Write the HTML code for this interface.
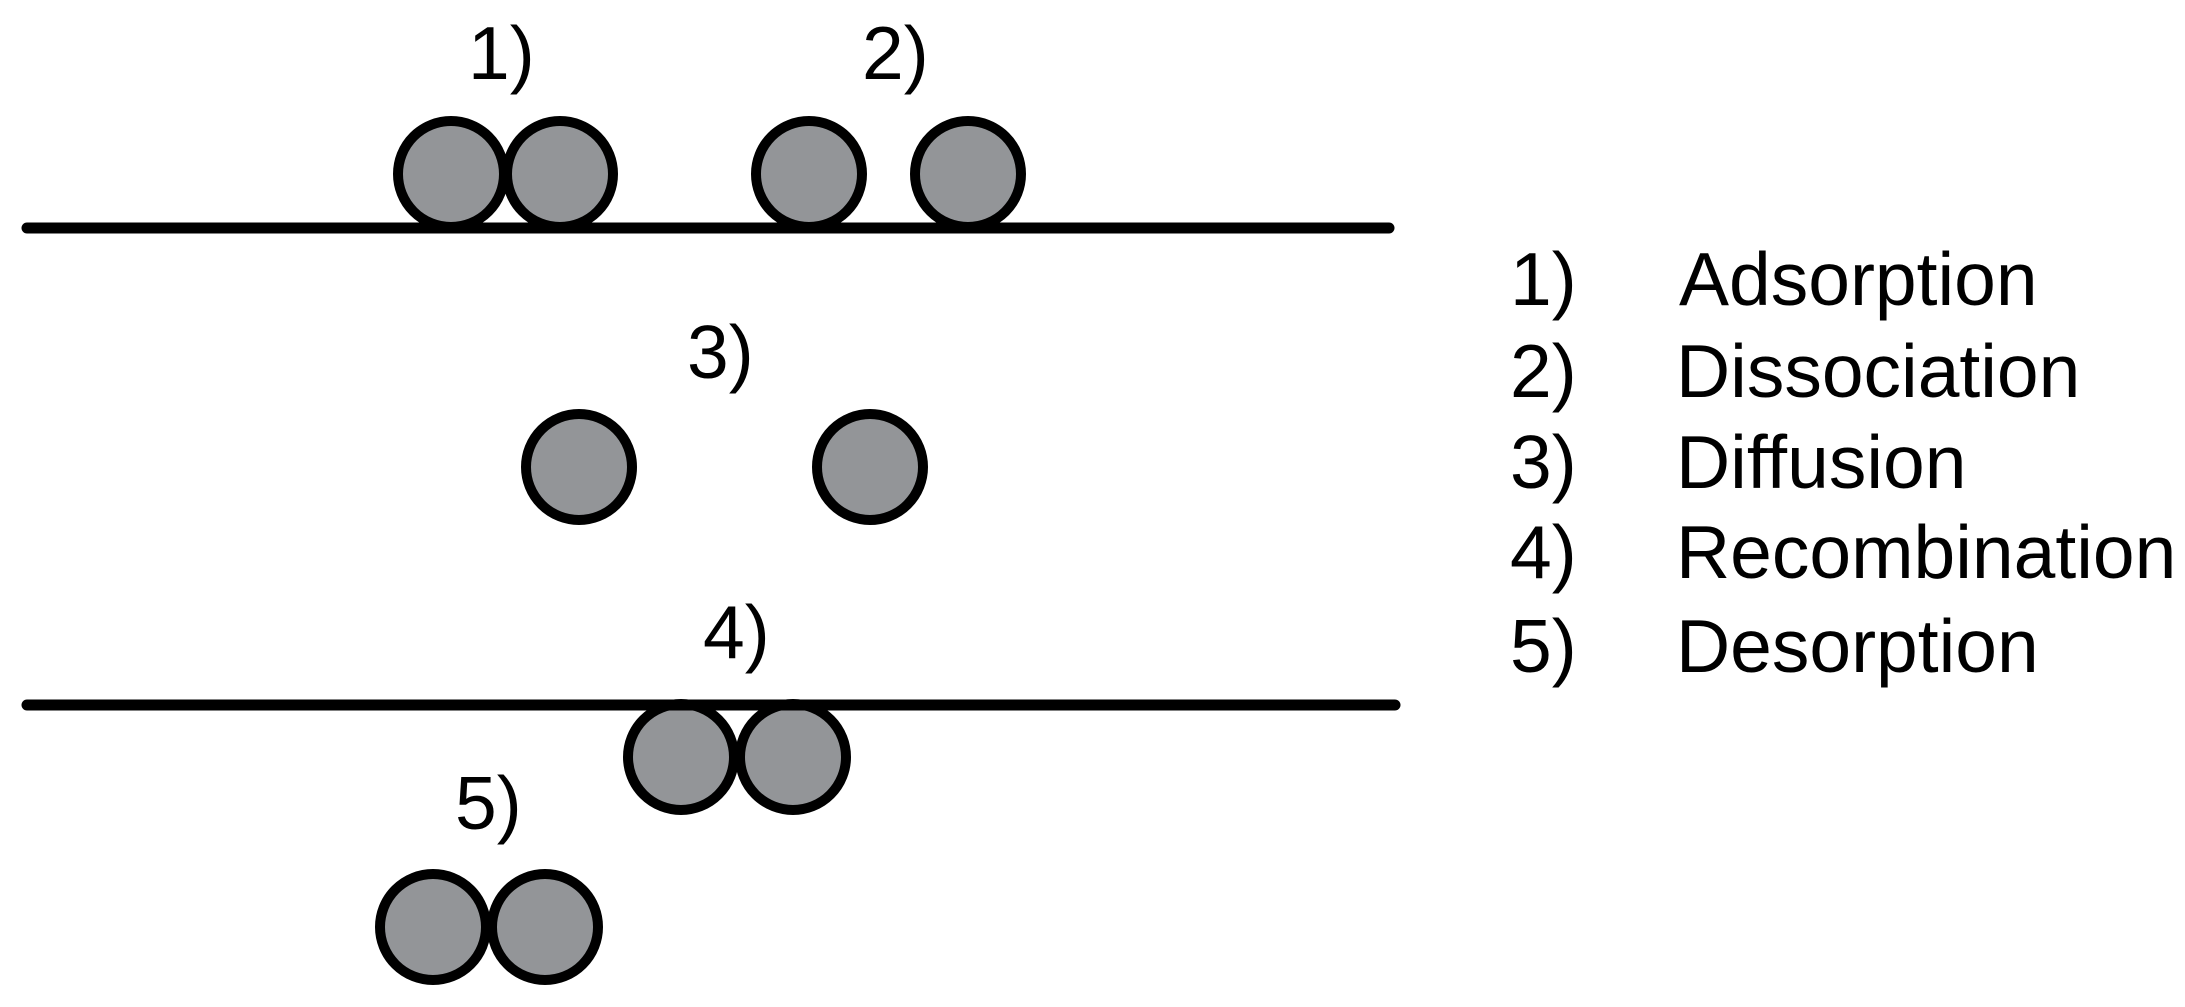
<!DOCTYPE html>
<html><head><meta charset="utf-8"><style>
html,body{margin:0;padding:0;background:#fff;}
svg{display:block;}
text{font-family:"Liberation Sans",Arial,sans-serif;font-size:75px;fill:#000;}
</style></head><body>
<svg width="2185" height="1007" viewBox="0 0 2185 1007" xmlns="http://www.w3.org/2000/svg">
<g fill="#939598" stroke="#000" stroke-width="10">
<circle cx="451" cy="174" r="53"/>
<circle cx="560" cy="174" r="53"/>
<circle cx="809" cy="174" r="53"/>
<circle cx="968" cy="174" r="53"/>
<circle cx="579" cy="467" r="53"/>
<circle cx="870" cy="467" r="53"/>
<circle cx="681" cy="757" r="53"/>
<circle cx="793" cy="757" r="53"/>
<circle cx="433" cy="927" r="53"/>
<circle cx="545" cy="927" r="53"/>
</g>
<line x1="27" y1="228" x2="1389" y2="228" stroke="#000" stroke-width="11" stroke-linecap="round"/>
<line x1="27" y1="705" x2="1395" y2="705" stroke="#000" stroke-width="11" stroke-linecap="round"/>
<text x="468" y="79">1)</text>
<text x="862" y="79">2)</text>
<text x="687" y="378">3)</text>
<text x="703" y="658">4)</text>
<text x="455" y="829">5)</text>
<text x="1510" y="305">1)</text><text x="1679" y="305">Adsorption</text>
<text x="1510" y="397">2)</text><text x="1676" y="397">Dissociation</text>
<text x="1510" y="488">3)</text><text x="1676" y="488">Diffusion</text>
<text x="1510" y="578">4)</text><text x="1676" y="578">Recombination</text>
<text x="1510" y="672">5)</text><text x="1676" y="672">Desorption</text>
</svg>
</body></html>
